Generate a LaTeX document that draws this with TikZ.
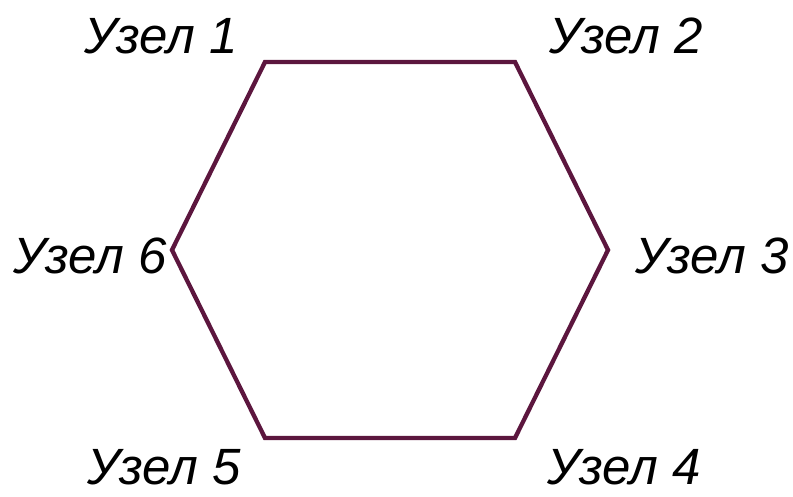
\documentclass[tikz,border=0pt]{standalone}
\usepackage{fontspec}
\setmainfont{Liberation Sans}
\definecolor{edgecol}{RGB}{92,22,62}
\begin{document}
\begin{tikzpicture}[x=1pt,y=-1pt,
  edge/.style={draw=edgecol,line width=4.3pt,line join=miter},
  lbl/.style={anchor=base,inner sep=0pt,font=\fontsize{51}{60}\selectfont\itshape}]
\useasboundingbox (0,0) rectangle (793,496);
\coordinate (v1) at (265,62);
\coordinate (v2) at (515,62);
\coordinate (v3) at (608,250);
\coordinate (v4) at (515,438);
\coordinate (v5) at (265,438);
\coordinate (v6) at (172,250);
\draw[edge] (v1) -- (v2) -- (v3) -- (v4) -- (v5) -- (v6) -- cycle;
\node[lbl] (l1) at (161,53) {Узел 1};
\node[lbl] (l2) at (626,53) {Узел 2};
\node[lbl] (l3) at (712,273) {Узел 3};
\node[lbl] (l4) at (624,484) {Узел 4};
\node[lbl] (l5) at (164,484) {Узел 5};
\node[lbl] (l6) at (90,273) {Узел 6};
\end{tikzpicture}
\end{document}
